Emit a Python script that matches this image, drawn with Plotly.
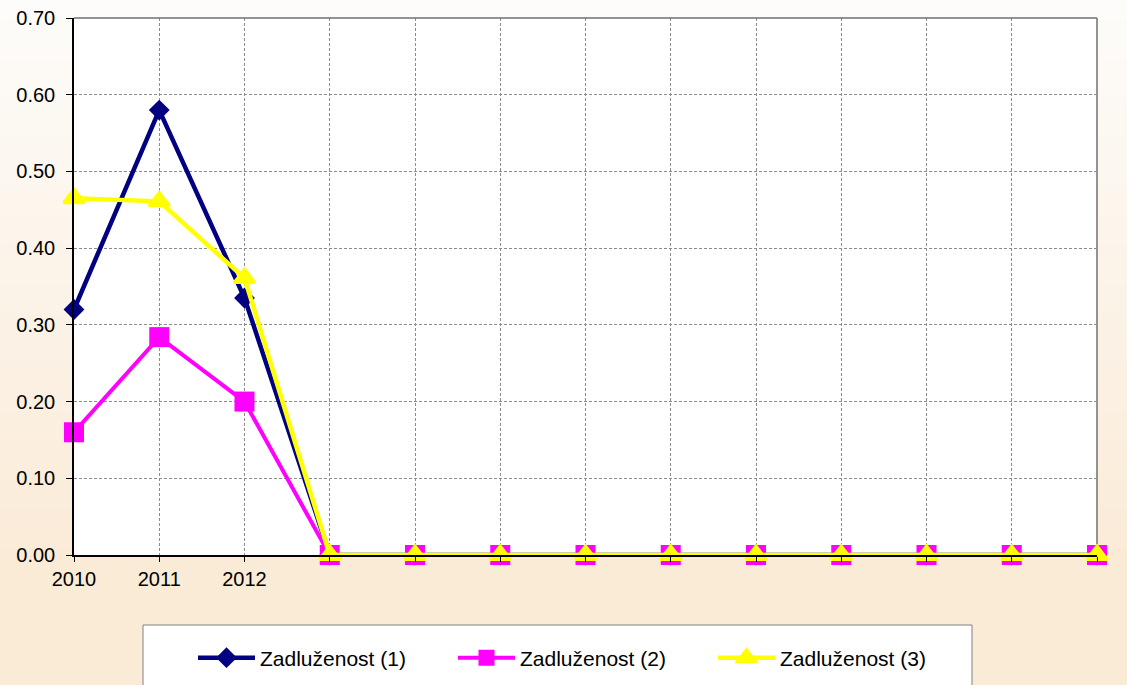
import plotly.graph_objects as go

# Category axis: only the first three years are labelled
categories = ["2010", "2011", "2012", "", "", "", "", "", "", "", "", "", ""]
zadluzenost_1 = [0.32, 0.58, 0.335, 0, 0, 0, 0, 0, 0, 0, 0, 0, 0]
zadluzenost_2 = [0.16, 0.284, 0.20, 0, 0, 0, 0, 0, 0, 0, 0, 0, 0]
zadluzenost_3 = [0.465, 0.461, 0.361, 0, 0, 0, 0, 0, 0, 0, 0, 0, 0]
y_ticks = [0.0, 0.1, 0.2, 0.3, 0.4, 0.5, 0.6, 0.7]

W, H = 1127, 685
ML, MR, MT, MB = 74, 30, 18, 130
PW, PH = W - ML - MR, H - MT - MB

def px_x(x):
    return (x - ML) / PW

def px_y(y):
    return (H - MB - y) / PH

FONT = "Arial, Liberation Sans, sans-serif"
xs = list(range(len(categories)))

fig = go.Figure()
fig.add_trace(go.Scatter(
    x=xs, y=zadluzenost_1, name="Zadluženost (1)", mode="lines+markers",
    line=dict(color="#000080", width=4.5),
    marker=dict(symbol="diamond", size=16, color="#000080"),
    cliponaxis=False))
fig.add_trace(go.Scatter(
    x=xs, y=zadluzenost_2, name="Zadluženost (2)", mode="lines+markers",
    line=dict(color="#FF00FF", width=4),
    marker=dict(symbol="square", size=20, color="#FF00FF"),
    cliponaxis=False))
fig.add_trace(go.Scatter(
    x=xs, y=zadluzenost_3, name="Zadluženost (3)", mode="lines+markers",
    line=dict(color="#FFFF00", width=4.5),
    marker=dict(symbol="triangle-up", size=18, color="#FFFF00",
                line=dict(color="#FFFF00", width=3)),
    cliponaxis=False))

# Vertical gradient background built from thin strips
shapes = []
top, bottom = (253, 252, 250), (250, 235, 215)
n = 70
for i in range(n):
    y0p = i * H / n
    y1p = (i + 1) * H / n
    t = min(1.0, ((y0p + y1p) / 2) / 560)
    c = tuple(round(a + (b - a) * t) for a, b in zip(top, bottom))
    shapes.append(dict(type="rect", xref="paper", yref="paper", layer="below",
                       x0=px_x(0), x1=px_x(W), y0=px_y(y1p + 1), y1=px_y(y0p),
                       line=dict(width=0), fillcolor="rgb(%d,%d,%d)" % c))
# White plot area
shapes.append(dict(type="rect", xref="paper", yref="paper", layer="below",
                   x0=0, x1=1, y0=0, y1=1, line=dict(width=0), fillcolor="white"))
# Top and right frame
shapes.append(dict(type="line", xref="paper", yref="paper", x0=0, x1=1, y0=1, y1=1,
                   line=dict(color="#707070", width=1.5)))
shapes.append(dict(type="line", xref="paper", yref="paper", x0=1, x1=1, y0=0, y1=1,
                   line=dict(color="#707070", width=1.5), layer="below"))
# Legend box
shapes.append(dict(type="rect", xref="paper", yref="paper", layer="below",
                   x0=px_x(143), x1=px_x(972), y0=px_y(692), y1=px_y(625),
                   line=dict(color="#808080", width=1), fillcolor="white"))

fig.update_layout(
    width=W, height=H,
    margin=dict(l=ML, r=MR, t=MT, b=MB, autoexpand=False),
    paper_bgcolor="white", plot_bgcolor="white",
    font=dict(family=FONT, size=20, color="black"),
    shapes=shapes,
    showlegend=True,
    legend=dict(orientation="h", x=px_x(193), xanchor="left",
                y=px_y(658), yanchor="middle",
                bgcolor="rgba(0,0,0,0)", borderwidth=0,
                font=dict(family=FONT, size=21, color="black"),
                entrywidth=188, entrywidthmode="pixels", itemwidth=57),
    xaxis=dict(range=[0, 12], tickmode="array", tickvals=xs, ticktext=categories,
               showgrid=True, gridcolor="#8c8c8c", griddash="3px,2px", gridwidth=1,
               showline=True, linecolor="black", linewidth=1.5,
               ticks="outside", ticklen=5, tickcolor="black",
               zeroline=False, tickfont=dict(size=20)),
    yaxis=dict(range=[0, 0.7], tickmode="array", tickvals=y_ticks, tickformat=".2f",
               showgrid=True, gridcolor="#8c8c8c", griddash="3px,2px", gridwidth=1,
               showline=True, linecolor="black", linewidth=1.5,
               ticks="outside", ticklen=6, tickcolor="black", ticklabelstandoff=7,
               zeroline=False, tickfont=dict(size=20)),
)

fig.write_html("out.html")
